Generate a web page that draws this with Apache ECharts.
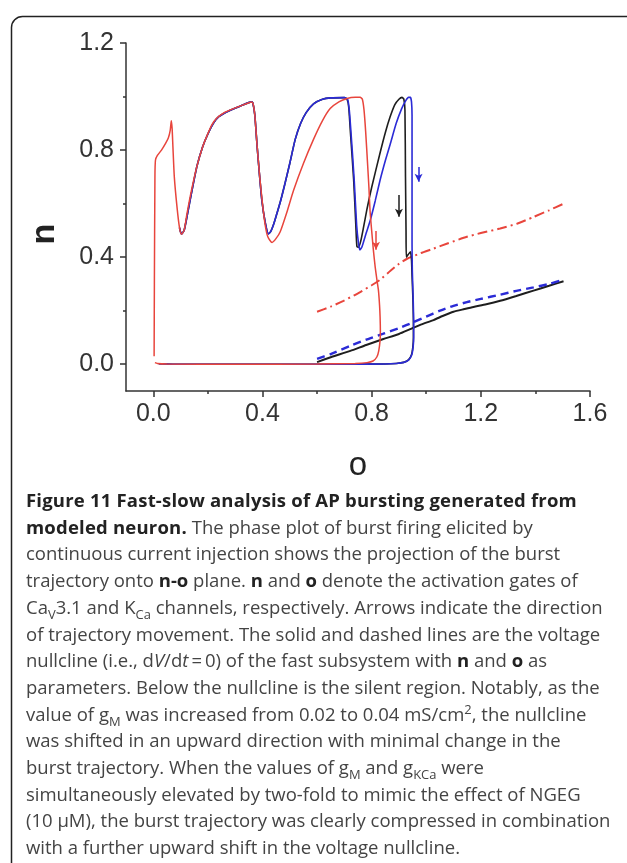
<!DOCTYPE html>
<html>
<head>
<meta charset="utf-8">
<script src="https://cdn.jsdelivr.net/npm/echarts@6/dist/echarts.min.js"></script>
<style>
  html, body { margin: 0; padding: 0; background: #fff; }
  #wrap { position: relative; width: 627px; height: 863px; overflow: hidden; }
  #chart { position: absolute; left: 0; top: 0; width: 627px; height: 863px; }
  #caption {
    position: absolute; left: 26px; top: 487px;
    font-family: 'Open Sans', sans-serif; font-size: 18.5px; line-height: 26.7px;
    color: #444; white-space: nowrap;
  }
  #caption b { color: #222; }
  #caption .hd { letter-spacing: 0.2px; }
  #caption sub, #caption sup { font-size: 0.7em; line-height: 0; }
</style>
</head>
<body>
<div id="wrap">
  <div id="chart"></div>
  <div id="caption">
    <b class="hd">Figure 11 Fast-slow analysis of AP bursting generated from</b><br>
    <b class="hd">modeled neuron.</b> The phase plot of burst firing elicited by<br>
    continuous current injection shows the projection of the burst<br>
    trajectory onto <b>n-o</b> plane. <b>n</b> and <b>o</b> denote the activation gates of<br>
    Ca<sub>V</sub>3.1 and K<sub>Ca</sub> channels, respectively. Arrows indicate the direction<br>
    of trajectory movement. The solid and dashed lines are the voltage<br>
    nullcline (i.e., d<i>V</i>/d<i>t</i>&#8201;=&#8201;0) of the fast subsystem with <b>n</b> and <b>o</b> as<br>
    parameters. Below the nullcline is the silent region. Notably, as the<br>
    value of g<sub>M</sub> was increased from 0.02 to 0.04 mS/cm<sup>2</sup>, the nullcline<br>
    was shifted in an upward direction with minimal change in the<br>
    burst trajectory. When the values of g<sub>M</sub> and g<sub>KCa</sub> were<br>
    simultaneously elevated by two-fold to mimic the effect of NGEG<br>
    (10 μM), the burst trajectory was clearly compressed in combination<br>
    with a further upward shift in the voltage nullcline.
  </div>
</div>
<script>
/* n-o phase plane: burst trajectories + voltage nullclines */
const chart = echarts.init(document.getElementById('chart'), null, { renderer: 'canvas' });

// tick values
const xMajor = [0, 0.4, 0.8, 1.2, 1.6];
const xMinor = [0.2, 0.6, 1.0, 1.4];
const yMajor = [0, 0.4, 0.8, 1.2];
const yMinor = [0.2, 0.6, 1.0];

// burst trajectories [o, n]
const trajBlack = [
  [0.096, 0.51], [0.103, 0.486], [0.113, 0.50], [0.125, 0.56], [0.14, 0.64], [0.16, 0.74],
  [0.18, 0.81], [0.2, 0.86], [0.22, 0.9], [0.24, 0.925], [0.28, 0.948], [0.32, 0.965],
  [0.36, 0.98], [0.365, 0.975], [0.372, 0.93], [0.38, 0.82], [0.388, 0.72], [0.398, 0.61],
  [0.41, 0.53], [0.422, 0.487], [0.43, 0.495], [0.44, 0.52], [0.452, 0.56], [0.465, 0.605],
  [0.48, 0.665], [0.50, 0.75], [0.52, 0.84], [0.54, 0.9], [0.56, 0.94], [0.587, 0.973],
  [0.62, 0.99], [0.65, 0.995], [0.70, 0.996], [0.71, 0.99], [0.716, 0.96], [0.722, 0.87],
  [0.734, 0.69], [0.742, 0.52], [0.746, 0.44], [0.752, 0.437], [0.76, 0.46], [0.77, 0.51],
  [0.783, 0.58], [0.80, 0.66], [0.831, 0.79], [0.85, 0.865], [0.868, 0.925], [0.885, 0.97],
  [0.9, 0.99], [0.911, 0.997], [0.918, 0.99], [0.922, 0.95], [0.924, 0.7], [0.926, 0.5],
  [0.927, 0.40], [0.934, 0.41], [0.942, 0.42], [0.946, 0.39], [0.948, 0.33], [0.951, 0.25],
  [0.953, 0.15], [0.953, 0.1], [0.951, 0.065], [0.946, 0.035], [0.935, 0.016], [0.917, 0.007],
  [0.89, 0.003], [0.85, 0.001], [0.7, 0.0], [0.4, 0.0], [0.1, 0.0], [0.02, 0.002]
];
const trajBlue = [
  [0.096, 0.51], [0.103, 0.486], [0.113, 0.50], [0.125, 0.56], [0.14, 0.64], [0.16, 0.74],
  [0.18, 0.81], [0.2, 0.86], [0.22, 0.9], [0.24, 0.925], [0.28, 0.948], [0.32, 0.965],
  [0.36, 0.98], [0.365, 0.975], [0.372, 0.93], [0.38, 0.82], [0.388, 0.72], [0.398, 0.61],
  [0.41, 0.53], [0.422, 0.487], [0.43, 0.495], [0.44, 0.52], [0.452, 0.56], [0.465, 0.605],
  [0.48, 0.665], [0.50, 0.75], [0.52, 0.84], [0.54, 0.9], [0.56, 0.94], [0.587, 0.973],
  [0.62, 0.99], [0.65, 0.995], [0.70, 0.996], [0.712, 0.99], [0.718, 0.95], [0.724, 0.87],
  [0.736, 0.69], [0.745, 0.52], [0.752, 0.45], [0.757, 0.427], [0.765, 0.44], [0.78, 0.49],
  [0.795, 0.538], [0.813, 0.61], [0.831, 0.688], [0.85, 0.76], [0.868, 0.822], [0.89, 0.9],
  [0.91, 0.955], [0.925, 0.985], [0.935, 0.997], [0.942, 0.997], [0.946, 0.98], [0.948, 0.93],
  [0.948, 0.7], [0.948, 0.45], [0.949, 0.35], [0.952, 0.25], [0.954, 0.15], [0.954, 0.1],
  [0.952, 0.065], [0.947, 0.035], [0.936, 0.016], [0.918, 0.007], [0.89, 0.003], [0.85, 0.001],
  [0.7, 0.0], [0.4, 0.0], [0.1, 0.0], [0.02, 0.002]
];
const trajRed = [
  [0.003, 0.03], [0.004, 0.3], [0.006, 0.7], [0.008, 0.763], [0.015, 0.78], [0.03, 0.80],
  [0.045, 0.825], [0.055, 0.845], [0.062, 0.874], [0.066, 0.91], [0.069, 0.88], [0.072, 0.81],
  [0.077, 0.70], [0.087, 0.586], [0.096, 0.51], [0.103, 0.486], [0.113, 0.50], [0.123, 0.56],
  [0.14, 0.65], [0.16, 0.74], [0.18, 0.81], [0.197, 0.854], [0.215, 0.895], [0.233, 0.92],
  [0.26, 0.94], [0.282, 0.95], [0.32, 0.965], [0.361, 0.98], [0.366, 0.972], [0.372, 0.93],
  [0.38, 0.82], [0.39, 0.70], [0.40, 0.6], [0.41, 0.52], [0.42, 0.475], [0.435, 0.455],
  [0.45, 0.47], [0.465, 0.495], [0.49, 0.57], [0.514, 0.65], [0.55, 0.75], [0.587, 0.84],
  [0.62, 0.91], [0.648, 0.955], [0.68, 0.98], [0.71, 0.993], [0.74, 0.997], [0.758, 0.997],
  [0.766, 0.99], [0.772, 0.95], [0.778, 0.87], [0.785, 0.75], [0.79, 0.66], [0.794, 0.575],
  [0.80, 0.5], [0.806, 0.43], [0.813, 0.363], [0.82, 0.31], [0.825, 0.275], [0.829, 0.22],
  [0.831, 0.175], [0.832, 0.12], [0.831, 0.09], [0.826, 0.05], [0.819, 0.027], [0.805, 0.012],
  [0.783, 0.006], [0.74, 0.003], [0.6, 0.001], [0.3, 0.0], [0.05, 0.001], [0.015, 0.003],
  [0.006, 0.006]
];

// voltage nullclines [o, n]
const nullBlack = [
  [0.6, 0.008], [0.65, 0.026], [0.722, 0.05], [0.78, 0.072], [0.843, 0.094], [0.9, 0.113],
  [0.941, 0.131], [0.98, 0.148], [1.027, 0.165], [1.06, 0.18], [1.1, 0.196], [1.14, 0.206],
  [1.173, 0.214], [1.22, 0.224], [1.271, 0.237], [1.33, 0.255], [1.393, 0.275], [1.45, 0.293],
  [1.503, 0.31]
];
const nullBlue = [
  [0.6, 0.02], [0.65, 0.038], [0.722, 0.069], [0.78, 0.092], [0.843, 0.114], [0.9, 0.135],
  [0.953, 0.157], [1.0, 0.178], [1.051, 0.2], [1.1, 0.218], [1.149, 0.232], [1.2, 0.244],
  [1.271, 0.26], [1.33, 0.274], [1.393, 0.287], [1.45, 0.3], [1.503, 0.316]
];
const nullRed = [
  [0.6, 0.196], [0.65, 0.215], [0.697, 0.237], [0.75, 0.265], [0.8, 0.295], [0.83, 0.315],
  [0.87, 0.35], [0.9, 0.375], [0.93, 0.394], [0.98, 0.415], [1.027, 0.432], [1.08, 0.452],
  [1.149, 0.476], [1.2, 0.49], [1.271, 0.507], [1.332, 0.525], [1.393, 0.55], [1.45, 0.575],
  [1.5, 0.598]
];

// direction arrows: [o, nFrom, nTo]
const arrowBlack = [0.90, 0.632, 0.551];
const arrowBlue = [0.972, 0.737, 0.682];
const arrowRed = [0.816, 0.498, 0.428];

const BLACK = '#1e1e1e', BLUE = '#2b2bd6', RED = '#e8453c';
const AX = '#333';
const FONT = 'Liberation Sans';

const arrow = (a, color) => ({
  silent: true, symbol: ['none', 'arrow'], symbolSize: [6, 8],
  label: { show: false },
  lineStyle: { color, width: 1.5, type: 'solid' },
  data: [[{ coord: [a[0], a[1]] }, { coord: [a[0], a[2]] }]]
});

const traj = (name, data, color, width, a) => ({
  name, type: 'line', data, showSymbol: false, smooth: 0.2, z: 3,
  lineStyle: { color, width }, markLine: arrow(a, color)
});

const tickLabel = (ticks, margin) => ({
  customValues: ticks, formatter: (v) => v.toFixed(1), color: '#333',
  fontSize: 25, fontFamily: FONT, margin
});

const mainAxis = (min, max, ticks, position, extra) => Object.assign({
  type: 'value', min, max, position,
  axisLine: { show: true, onZero: false, lineStyle: { color: AX, width: 1.5 } },
  axisTick: { show: true, customValues: ticks, length: 6, lineStyle: { color: AX, width: 1.5 } },
  splitLine: { show: false }
}, extra);

// second axis on the same side, used only for the minor ticks
const minorAxis = (min, max, ticks, position) => ({
  type: 'value', min, max, position,
  axisLine: { show: false, onZero: false },
  axisTick: { show: true, customValues: ticks, length: 3, lineStyle: { color: AX, width: 1.5 } },
  axisLabel: { show: false },
  splitLine: { show: false }
});

chart.setOption({
  animation: false,
  textStyle: { fontFamily: FONT },
  grid: { left: 126, top: 43, width: 464, height: 348 },
  xAxis: [
    mainAxis(-0.1, 1.6, xMajor, 'bottom', {
      axisLabel: tickLabel(xMajor, 11),
      name: 'o', nameLocation: 'middle', nameGap: 58,
      nameTextStyle: { fontSize: 33, color: '#222', fontFamily: FONT }
    }),
    minorAxis(-0.1, 1.6, xMinor, 'bottom')
  ],
  yAxis: [
    mainAxis(-0.1, 1.2, yMajor, 'left', { axisLabel: tickLabel(yMajor, 12) }),
    minorAxis(-0.1, 1.2, yMinor, 'left')
  ],
  graphic: [
    { type: 'rect', left: 9, top: 14, silent: true,
      shape: { width: 700, height: 900, r: [11, 0, 0, 0] },
      style: { fill: 'none', stroke: '#222', lineWidth: 1.5 } },
    { type: 'text', x: 45, y: 234, rotation: Math.PI / 2, silent: true,
      style: { text: 'n', fontSize: 34, fontWeight: 'bold', fontFamily: FONT, fill: '#222',
        align: 'center', verticalAlign: 'middle' } }
  ],
  series: [
    { name: 'nullRed', type: 'line', data: nullRed, showSymbol: false, smooth: 0.2, z: 2,
      lineStyle: { color: RED, width: 2, type: [10, 4, 2, 4] } },
    { name: 'nullBlack', type: 'line', data: nullBlack, showSymbol: false, smooth: 0.2, z: 2,
      lineStyle: { color: BLACK, width: 2 } },
    { name: 'nullBlue', type: 'line', data: nullBlue, showSymbol: false, smooth: 0.2, z: 2,
      lineStyle: { color: BLUE, width: 2.4, type: [8, 5] } },
    traj('black', trajBlack, BLACK, 1.6, arrowBlack),
    traj('blue', trajBlue, BLUE, 1.6, arrowBlue),
    traj('red', trajRed, RED, 1.5, arrowRed)
  ]
});
window.addEventListener('resize', () => chart.resize());
</script>
</body>
</html>
